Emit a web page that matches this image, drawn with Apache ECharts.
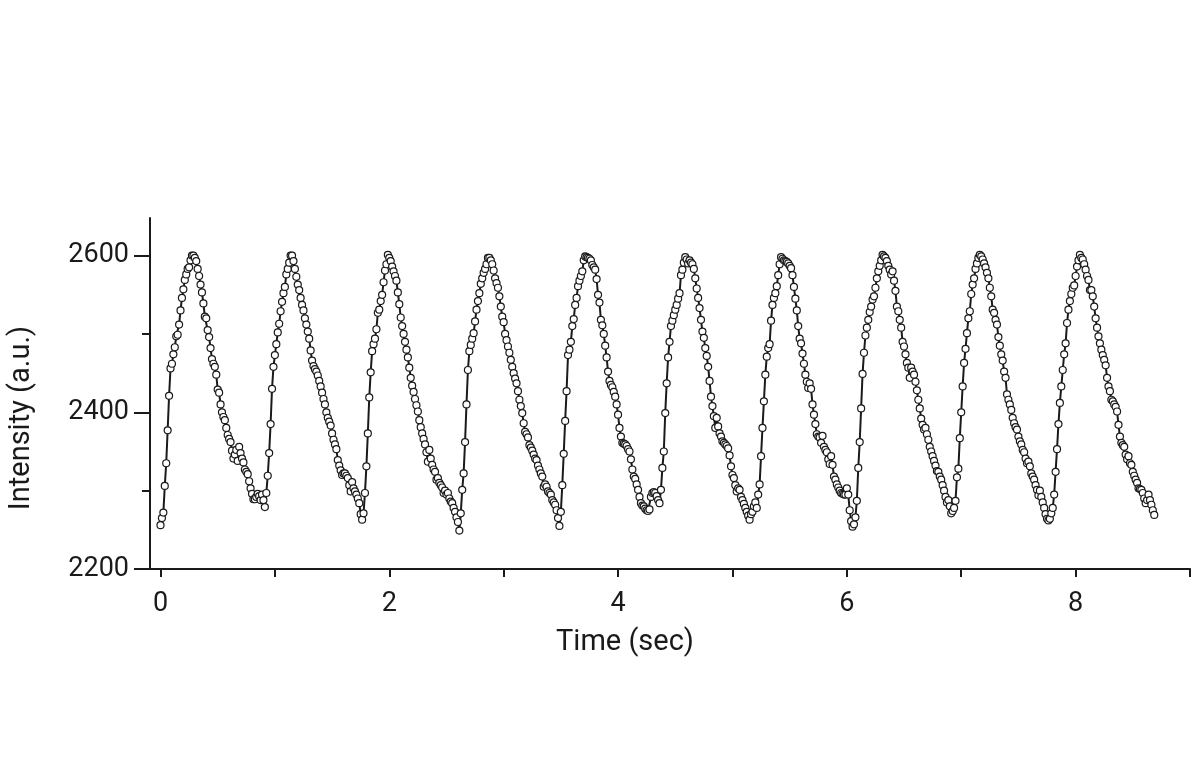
<!DOCTYPE html>
<html>
<head>
<meta charset="utf-8">
<title>Intensity vs time</title>
<script src="https://cdn.jsdelivr.net/npm/echarts@6/dist/echarts.min.js"></script>
<style>
  html, body { margin: 0; padding: 0; background: #fff; }
  #main { width: 1200px; height: 776px; }
</style>
</head>
<body>
<div id="main"></div>
<script>
// samples are taken every 12.5 ms, one array per beat
var sampleStep = 0.0125;

var beat1 = [2256, 2265, 2272, 2306, 2335, 2377, 2421, 2456, 2462, 2474, 2483, 2497, 2499, 2512, 2530, 2546, 2557, 2569, 2576, 2583, 2585, 2594, 2600, 2600,
  2597, 2593, 2583, 2574, 2563, 2553, 2539, 2522, 2520, 2505, 2496, 2482, 2468, 2462, 2458, 2448, 2429, 2425, 2410, 2400,
  2394, 2390, 2380, 2371, 2366, 2362, 2351, 2341, 2346, 2352, 2338, 2356, 2348, 2341, 2336, 2327, 2324, 2321, 2312, 2303,
  2296, 2289, 2289, 2292, 2296, 2293, 2288, 2295, 2288, 2279];
var beat2 = [2297, 2319, 2348, 2385, 2430, 2458, 2473, 2487, 2502, 2513, 2529, 2541, 2552, 2560, 2576, 2583, 2591, 2600, 2600,
  2593, 2583, 2573, 2563, 2556, 2546, 2537, 2530, 2520, 2512, 2503, 2494, 2479, 2466, 2459, 2455, 2452, 2447, 2440, 2433,
  2425, 2417, 2410, 2400, 2393, 2388, 2383, 2373, 2365, 2359, 2353, 2339, 2332, 2326, 2320, 2322, 2322, 2319, 2316, 2307,
  2299, 2311, 2303, 2299, 2295, 2290, 2284, 2270, 2263];
var beat3 = [2271, 2297, 2331, 2373, 2419, 2451, 2478, 2487, 2494, 2506, 2527, 2531, 2542, 2550, 2566, 2581, 2589, 2601,
  2597, 2593, 2586, 2580, 2574, 2568, 2553, 2538, 2521, 2510, 2500, 2490, 2480, 2470, 2457, 2444, 2434, 2426, 2417, 2409,
  2401, 2390, 2381, 2373, 2366, 2359, 2349, 2337, 2352, 2341, 2333, 2327, 2324, 2314, 2316, 2310, 2307, 2304, 2297, 2300,
  2295, 2297, 2290, 2286, 2284, 2278, 2273, 2266, 2260, 2249];
var beat4 = [2271, 2301, 2322, 2362, 2410, 2454, 2478, 2486, 2494, 2501, 2516, 2531, 2542, 2552, 2564, 2571, 2578, 2583, 2589, 2597, 2597,
  2594, 2589, 2581, 2571, 2565, 2559, 2548, 2535, 2522, 2515, 2500, 2492, 2484, 2476, 2467, 2458, 2450, 2443, 2437, 2427,
  2416, 2408, 2399, 2386, 2375, 2372, 2368, 2358, 2355, 2351, 2346, 2341, 2339, 2332, 2327, 2322, 2318, 2305, 2308, 2305,
  2299, 2297, 2295, 2288, 2285, 2282, 2275, 2265, 2255];
var beat5 = [2273, 2307, 2347, 2389, 2427, 2473, 2480, 2490, 2510, 2519, 2537, 2546, 2561, 2568, 2574, 2580, 2594, 2599,
  2598, 2597, 2596, 2594, 2588, 2585, 2582, 2570, 2550, 2540, 2518, 2511, 2500, 2485, 2470, 2452, 2440, 2435, 2432, 2426,
  2420, 2410, 2397, 2380, 2369, 2361, 2360, 2359, 2357, 2353, 2350, 2340, 2327, 2318, 2315, 2308, 2301, 2292, 2284, 2281,
  2280, 2277, 2275, 2274, 2276, 2292, 2297, 2298, 2297, 2293, 2288, 2284];
var beat6 = [2301, 2329, 2350, 2399, 2437, 2470, 2490, 2510, 2517, 2524, 2531, 2537, 2545, 2552, 2575, 2582, 2591, 2598,
  2595, 2590, 2594, 2591, 2589, 2583, 2571, 2558, 2546, 2533, 2518, 2503, 2495, 2482, 2472, 2458, 2440, 2420, 2408, 2395,
  2380, 2393, 2382, 2373, 2369, 2363, 2361, 2359, 2357, 2354, 2345, 2331, 2320, 2316, 2307, 2299, 2303, 2301, 2292, 2288,
  2283, 2278, 2273, 2268, 2263, 2270, 2273, 2280, 2285, 2278];
var beat7 = [2295, 2308, 2344, 2380, 2414, 2448, 2471, 2482, 2487, 2517, 2537, 2546, 2552, 2561, 2575, 2589, 2598,
  2596, 2594, 2593, 2592, 2590, 2587, 2584, 2575, 2560, 2545, 2530, 2510, 2494, 2488, 2475, 2462, 2448, 2439, 2431, 2437,
  2430, 2410, 2397, 2385, 2372, 2369, 2368, 2361, 2370, 2356, 2352, 2349, 2340, 2334, 2344, 2333, 2318, 2314, 2308, 2304,
  2300, 2297, 2296, 2295, 2295, 2303, 2295, 2275, 2261, 2254];
var beat8 = [2257, 2266, 2287, 2329, 2362, 2405, 2449, 2476, 2498, 2508, 2518, 2528, 2535, 2544, 2548, 2559, 2571, 2580, 2587, 2594, 2601,
  2599, 2597, 2593, 2587, 2582, 2576, 2580, 2568, 2555, 2535, 2529, 2518, 2508, 2490, 2484, 2474, 2463, 2457, 2444, 2457,
  2452, 2448, 2439, 2428, 2416, 2405, 2392, 2384, 2378, 2380, 2372, 2365, 2356, 2350, 2344, 2338, 2332, 2325, 2324, 2318,
  2314, 2307, 2300, 2292, 2285, 2288, 2280, 2271, 2274, 2278, 2287];
var beat9 = [2317, 2328, 2367, 2400, 2433, 2463, 2481, 2501, 2520, 2529, 2551, 2563, 2571, 2583, 2590, 2597, 2601,
  2599, 2595, 2590, 2585, 2578, 2571, 2559, 2548, 2531, 2527, 2518, 2512, 2496, 2485, 2474, 2466, 2452, 2444, 2423, 2416,
  2410, 2403, 2393, 2386, 2381, 2378, 2369, 2363, 2359, 2352, 2349, 2341, 2335, 2337, 2331, 2322, 2318, 2314, 2307, 2301,
  2294, 2300, 2292, 2285, 2278, 2270, 2264, 2262, 2264];
var beat10 = [2271, 2278, 2295, 2324, 2353, 2385, 2412, 2433, 2454, 2474, 2488, 2514, 2531, 2542, 2551, 2559, 2562, 2574, 2586, 2594, 2601,
  2597, 2595, 2589, 2582, 2574, 2569, 2556, 2556, 2548, 2535, 2520, 2508, 2497, 2488, 2480, 2473, 2467, 2460, 2444, 2433,
  2427, 2416, 2414, 2410, 2407, 2401, 2384, 2369, 2361, 2358, 2356, 2346, 2340, 2344, 2335, 2333, 2324, 2319, 2314, 2310,
  2303, 2302, 2301, 2297, 2290, 2284, 2288, 2295, 2288, 2282, 2275, 2269];

var xTicks = [0, 1, 2, 3, 4, 5, 6, 7, 8, 9];
var xLabels = [0, 2, 4, 6, 8];
var yMajor = [2200, 2400, 2600];
var yMinor = [2300, 2500];

(function () {
  var myChart = echarts.init(document.getElementById('main'));

  var values = [].concat(beat1, beat2, beat3, beat4, beat5, beat6, beat7, beat8, beat9, beat10);
  var points = values.map(function (v, i) {
    return [i * sampleStep, v];
  });

  var ink = '#1a1a1a';
  var font = 'Roboto';

  var option = {
    animation: false,
    backgroundColor: '#fff',
    grid: { left: 150, right: 10, top: 218, bottom: 207 },
    xAxis: {
      type: 'value',
      min: -0.0918,
      max: 9,
      axisLine: { onZero: false, lineStyle: { color: ink, width: 2 } },
      axisTick: { customValues: xTicks, length: 8, lineStyle: { color: ink, width: 2 } },
      axisLabel: { customValues: xLabels, margin: 22, color: ink, fontSize: 27, fontFamily: font },
      splitLine: { show: false }
    },
    yAxis: [
      {
        type: 'value',
        position: 'left',
        min: 2200,
        max: 2648,
        axisLine: { show: true, onZero: false, lineStyle: { color: ink, width: 2 } },
        axisTick: { customValues: yMajor, length: 16, lineStyle: { color: ink, width: 2 } },
        axisLabel: {
          customValues: yMajor,
          margin: 21,
          color: ink,
          fontSize: 27,
          fontFamily: font,
          formatter: function (v) { return String(v); }
        },
        splitLine: { show: false }
      },
      {
        type: 'value',
        position: 'left',
        min: 2200,
        max: 2648,
        axisLine: { show: false, onZero: false },
        axisTick: { customValues: yMinor, length: 8, lineStyle: { color: ink, width: 2 } },
        axisLabel: { show: false },
        splitLine: { show: false }
      }
    ],
    graphic: [
      {
        type: 'text',
        x: 625,
        y: 643,
        style: { text: 'Time (sec)', font: '29px Roboto', fill: ink, textAlign: 'center', textVerticalAlign: 'middle' }
      },
      {
        type: 'text',
        x: 22,
        y: 418,
        rotation: Math.PI / 2,
        style: { text: 'Intensity (a.u.)', font: '29px Roboto', fill: ink, textAlign: 'center', textVerticalAlign: 'middle' }
      }
    ],
    series: [
      {
        name: 'Intensity',
        type: 'line',
        data: points,
        symbol: 'circle',
        symbolSize: 7,
        showAllSymbol: true,
        lineStyle: { color: ink, width: 2 },
        itemStyle: { color: '#fff', borderColor: ink, borderWidth: 1.2 }
      }
    ]
  };
  myChart.setOption(option);
})();
</script>
</body>
</html>
